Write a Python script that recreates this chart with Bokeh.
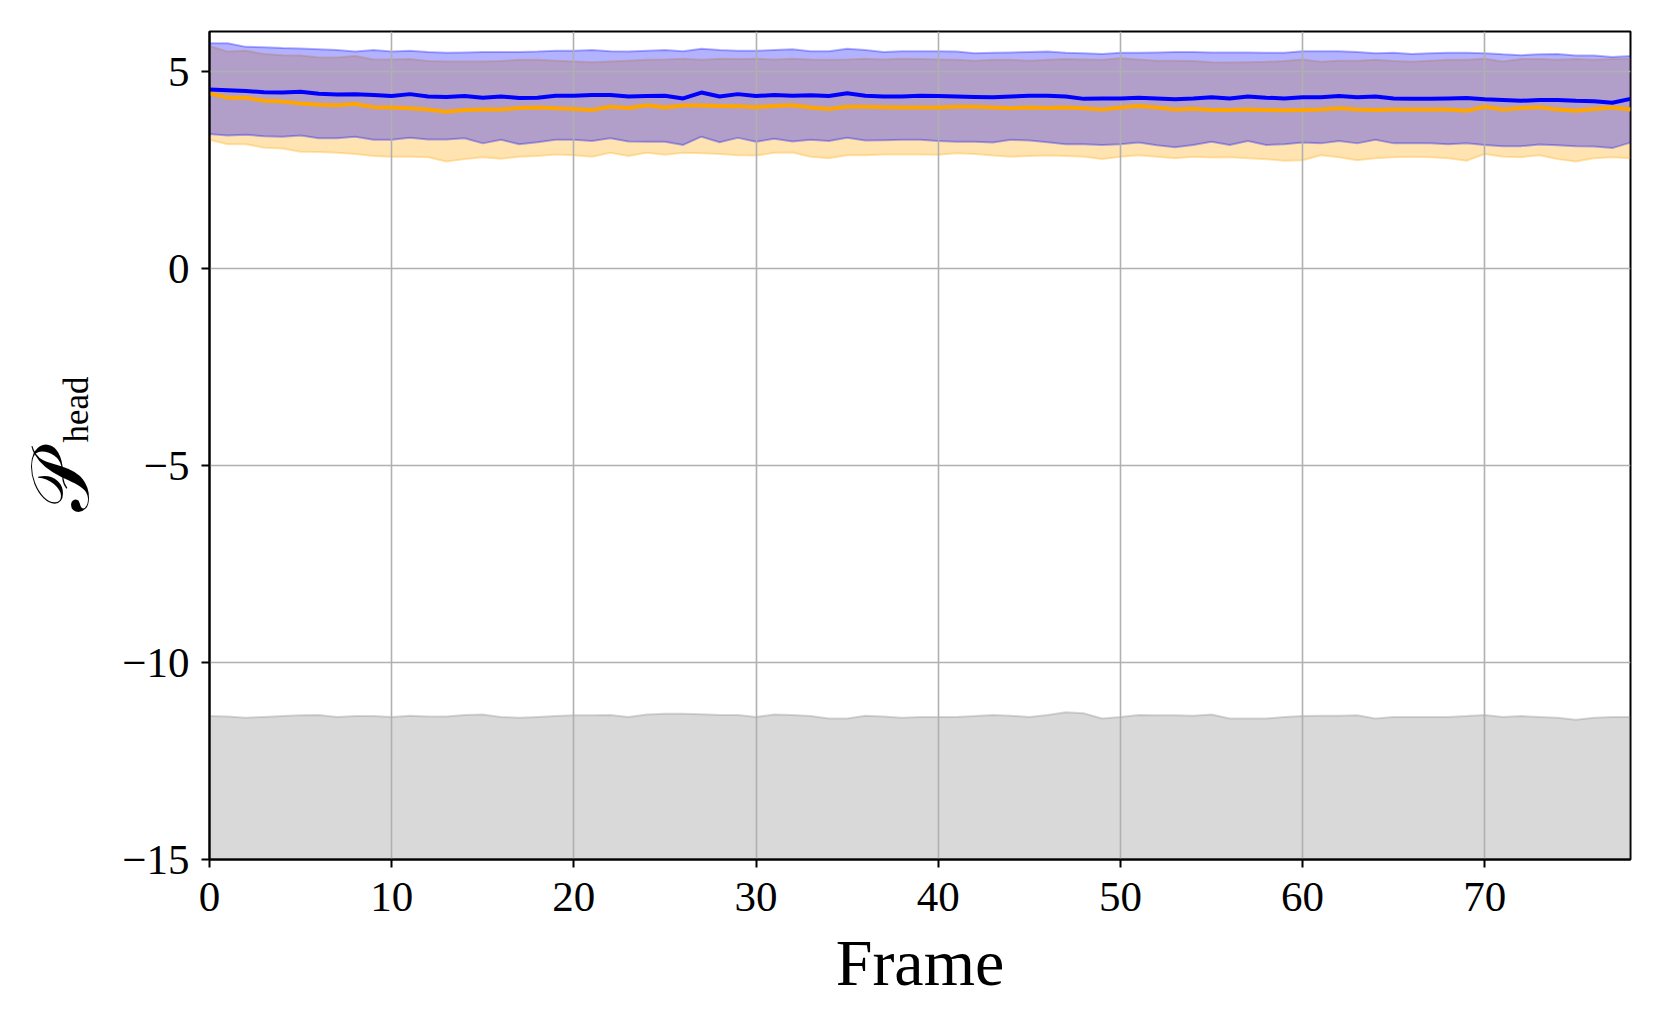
import math
from bokeh.plotting import figure
from bokeh.layouts import row
from bokeh.models import Range1d, FixedTicker
from bokeh.core.properties import value
from bokeh.embed import file_html
from bokeh.resources import INLINE

frames = list(range(79))

blue_mean = [4.55, 4.53, 4.51, 4.48, 4.47, 4.49, 4.44, 4.42, 4.43, 4.41, 4.38, 4.43, 4.37, 4.36, 4.38, 4.34, 4.37, 4.33, 4.34, 4.39,
             4.39, 4.41, 4.41, 4.37, 4.38, 4.39, 4.32, 4.47, 4.37, 4.43, 4.38, 4.41, 4.39, 4.40, 4.38, 4.45, 4.39, 4.37, 4.37, 4.39,
             4.38, 4.37, 4.36, 4.35, 4.37, 4.39, 4.39, 4.37, 4.31, 4.32, 4.32, 4.34, 4.32, 4.30, 4.32, 4.35, 4.32, 4.37, 4.34, 4.32,
             4.35, 4.35, 4.38, 4.35, 4.37, 4.32, 4.31, 4.31, 4.32, 4.33, 4.30, 4.28, 4.26, 4.28, 4.28, 4.26, 4.25, 4.21, 4.31]
blue_upper = [5.72, 5.72, 5.63, 5.62, 5.60, 5.59, 5.57, 5.55, 5.51, 5.55, 5.51, 5.53, 5.50, 5.48, 5.49, 5.50, 5.50, 5.50, 5.51, 5.53,
              5.53, 5.55, 5.52, 5.51, 5.53, 5.55, 5.52, 5.58, 5.55, 5.53, 5.53, 5.55, 5.57, 5.52, 5.52, 5.58, 5.55, 5.50, 5.52, 5.52,
              5.52, 5.51, 5.47, 5.48, 5.49, 5.50, 5.51, 5.48, 5.47, 5.45, 5.48, 5.48, 5.49, 5.50, 5.50, 5.49, 5.49, 5.49, 5.48, 5.48,
              5.52, 5.52, 5.52, 5.50, 5.47, 5.48, 5.45, 5.47, 5.48, 5.48, 5.47, 5.44, 5.42, 5.44, 5.45, 5.41, 5.41, 5.37, 5.40]
blue_lower = [3.42, 3.38, 3.40, 3.36, 3.35, 3.38, 3.31, 3.31, 3.35, 3.27, 3.27, 3.32, 3.28, 3.28, 3.31, 3.18, 3.27, 3.16, 3.21, 3.27,
              3.27, 3.24, 3.31, 3.23, 3.22, 3.22, 3.14, 3.35, 3.21, 3.32, 3.22, 3.30, 3.23, 3.27, 3.24, 3.32, 3.25, 3.26, 3.27, 3.27,
              3.24, 3.22, 3.22, 3.20, 3.27, 3.25, 3.21, 3.16, 3.16, 3.14, 3.16, 3.20, 3.13, 3.08, 3.14, 3.22, 3.14, 3.24, 3.14, 3.16,
              3.20, 3.18, 3.24, 3.18, 3.27, 3.18, 3.18, 3.18, 3.16, 3.18, 3.14, 3.11, 3.11, 3.15, 3.13, 3.11, 3.10, 3.06, 3.20]

orange_mean = [4.45, 4.34, 4.34, 4.26, 4.24, 4.19, 4.16, 4.15, 4.18, 4.10, 4.09, 4.07, 4.04, 3.98, 4.03, 4.04, 4.04, 4.08, 4.09, 4.07,
               4.05, 4.03, 4.11, 4.08, 4.15, 4.09, 4.14, 4.14, 4.13, 4.12, 4.10, 4.13, 4.15, 4.09, 4.05, 4.11, 4.11, 4.10, 4.09, 4.09,
               4.09, 4.11, 4.11, 4.09, 4.07, 4.09, 4.08, 4.09, 4.07, 4.04, 4.09, 4.13, 4.09, 4.04, 4.06, 4.03, 4.03, 4.04, 4.03, 4.02,
               4.03, 4.04, 4.07, 4.04, 4.03, 4.04, 4.04, 4.04, 4.04, 4.01, 4.11, 4.04, 4.08, 4.10, 4.04, 4.01, 4.05, 4.09, 4.04]
orange_upper = [5.65, 5.51, 5.53, 5.45, 5.42, 5.41, 5.36, 5.36, 5.40, 5.31, 5.31, 5.32, 5.27, 5.26, 5.26, 5.26, 5.27, 5.30, 5.30, 5.28,
                5.26, 5.24, 5.26, 5.28, 5.30, 5.31, 5.33, 5.30, 5.33, 5.32, 5.33, 5.31, 5.33, 5.31, 5.30, 5.31, 5.33, 5.31, 5.33, 5.32,
                5.31, 5.30, 5.28, 5.30, 5.30, 5.28, 5.30, 5.32, 5.31, 5.30, 5.34, 5.31, 5.28, 5.28, 5.27, 5.24, 5.23, 5.24, 5.25, 5.27,
                5.31, 5.25, 5.28, 5.28, 5.30, 5.27, 5.25, 5.28, 5.30, 5.30, 5.33, 5.26, 5.32, 5.32, 5.30, 5.32, 5.30, 5.32, 5.33]
orange_lower = [3.27, 3.16, 3.16, 3.07, 3.05, 2.97, 2.96, 2.94, 2.91, 2.86, 2.84, 2.84, 2.83, 2.72, 2.78, 2.83, 2.79, 2.84, 2.86, 2.90,
                2.88, 2.84, 2.94, 2.86, 2.94, 2.89, 2.94, 2.93, 2.91, 2.88, 2.87, 2.94, 2.95, 2.84, 2.80, 2.88, 2.88, 2.90, 2.90, 2.90,
                2.89, 2.93, 2.91, 2.87, 2.84, 2.86, 2.87, 2.86, 2.84, 2.78, 2.84, 2.88, 2.84, 2.80, 2.84, 2.82, 2.83, 2.80, 2.78, 2.74,
                2.75, 2.88, 2.83, 2.75, 2.80, 2.83, 2.84, 2.83, 2.80, 2.74, 2.91, 2.84, 2.83, 2.88, 2.78, 2.72, 2.80, 2.83, 2.80]

gray_upper = [-11.36, -11.37, -11.40, -11.38, -11.36, -11.34, -11.33, -11.38, -11.36, -11.36, -11.38, -11.35, -11.37, -11.37, -11.33,
              -11.32, -11.38, -11.40, -11.38, -11.36, -11.34, -11.34, -11.33, -11.38, -11.32, -11.30, -11.30, -11.31, -11.33, -11.33,
              -11.38, -11.32, -11.33, -11.36, -11.42, -11.42, -11.35, -11.37, -11.40, -11.38, -11.38, -11.38, -11.36, -11.33, -11.35,
              -11.38, -11.33, -11.26, -11.29, -11.42, -11.38, -11.33, -11.34, -11.34, -11.35, -11.32, -11.42, -11.42, -11.42, -11.38,
              -11.36, -11.35, -11.35, -11.34, -11.42, -11.38, -11.38, -11.38, -11.38, -11.36, -11.33, -11.38, -11.36, -11.38, -11.40,
              -11.45, -11.40, -11.38, -11.38]

x_ticks = [0, 10, 20, 30, 40, 50, 60, 70]
y_ticks = [-15, -10, -5, 0, 5]
y_tick_labels = ["\u221215", "\u221210", "\u22125", "0", "5"]
x_label = "Frame"
y_label_main = "\U0001D4AB"
y_label_sub = "head"

FONT = "Liberation Serif"
y_start, y_end = -15, 6.02

# ---- main plot ----
p = figure(frame_width=1421, frame_height=828, x_range=Range1d(0, 78), y_range=Range1d(y_start, y_end),
           output_backend="svg", toolbar_location=None,
           min_border_left=97, min_border_right=16, min_border_top=31, min_border_bottom=10)
p.background_fill_color = "white"
p.border_fill_color = "white"
p.outline_line_color = "black"
p.outline_line_width = 2

# bands (drawn below the grid, like matplotlib patches)
gray_floor = [y_start] * len(frames)
p.varea(x=frames, y1=gray_floor, y2=gray_upper, fill_color="gray", fill_alpha=0.3, level="image")
p.line(frames, gray_upper, line_color="gray", line_alpha=0.3, line_width=2, level="image")

p.varea(x=frames, y1=orange_lower, y2=orange_upper, fill_color="orange", fill_alpha=0.3, level="image")
p.line(frames, orange_upper, line_color="orange", line_alpha=0.3, line_width=2, level="image")
p.line(frames, orange_lower, line_color="orange", line_alpha=0.3, line_width=2, level="image")

p.varea(x=frames, y1=blue_lower, y2=blue_upper, fill_color="blue", fill_alpha=0.3, level="image")
p.line(frames, blue_upper, line_color="blue", line_alpha=0.3, line_width=2, level="image")
p.line(frames, blue_lower, line_color="blue", line_alpha=0.3, line_width=2, level="image")

# mean lines
p.line(frames, orange_mean, line_color="orange", line_width=4)
p.line(frames, blue_mean, line_color="blue", line_width=4)

# grid
p.xgrid.ticker = FixedTicker(ticks=x_ticks)
p.ygrid.ticker = FixedTicker(ticks=y_ticks)
p.grid.grid_line_color = "#b0b0b0"
p.grid.grid_line_width = 1.6

# axes
for ax in (p.xaxis, p.yaxis):
    ax.axis_line_color = "black"
    ax.axis_line_width = 2
    ax.major_tick_line_color = "black"
    ax.major_tick_line_width = 2
    ax.major_tick_out = 8
    ax.major_tick_in = 0
    ax.minor_tick_line_color = None
    ax.major_label_text_font = FONT
    ax.major_label_text_font_size = "43px"
    ax.major_label_text_color = "black"

p.xaxis.major_label_standoff = 15
p.yaxis.major_label_standoff = 12
p.xaxis.ticker = FixedTicker(ticks=x_ticks)
p.yaxis.ticker = FixedTicker(ticks=y_ticks)
p.yaxis.major_label_overrides = {t: s for t, s in zip(y_ticks, y_tick_labels)}

p.xaxis.axis_label = x_label
p.xaxis.axis_label_text_font = FONT
p.xaxis.axis_label_text_font_size = "66px"
p.xaxis.axis_label_text_font_style = "normal"
p.xaxis.axis_label_text_color = "black"
p.xaxis.axis_label_standoff = 12

# ---- y label strip (script P with subscript "head", rotated) ----
LAB_W, LAB_H = 112, 900
lab = figure(width=LAB_W, height=LAB_H, x_range=Range1d(0, LAB_W), y_range=Range1d(0, LAB_H),
             output_backend="svg", toolbar_location=None, min_border=0,
             x_axis_location=None, y_axis_location=None)
lab.grid.visible = False
lab.outline_line_color = None
lab.background_fill_color = "white"
lab.border_fill_color = "white"
lab.text(x=[60], y=[LAB_H - 558], text=[y_label_main], angle=math.pi / 2,
         text_align="center", text_baseline="middle",
         text_font=value(FONT), text_font_size="82px", text_color="black")
lab.text(x=[76], y=[LAB_H - 468], text=[y_label_sub], angle=math.pi / 2,
         text_align="center", text_baseline="middle",
         text_font=value(FONT), text_font_size="35px", text_color="black")

layout = row(lab, p, spacing=0)
open("out.html", "w").write(file_html(layout, INLINE))
